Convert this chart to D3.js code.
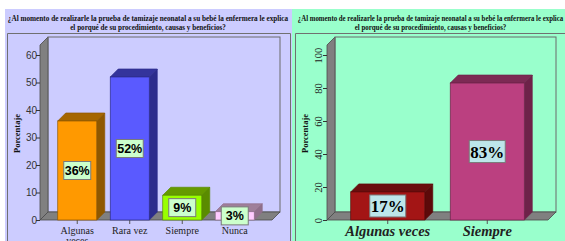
<!DOCTYPE html>
<html><head><meta charset="utf-8">
<script src="https://cdn.jsdelivr.net/npm/d3@7"></script>
<style>body{margin:0;background:#fff}svg{display:block}</style>
</head><body>
<svg id="c" width="565" height="241"></svg>
<script>
const titleLines = ["¿Al momento de realizarle la prueba de tamizaje neonatal a su bebé la enfermera le explica", "el porqué de su procedimiento, causas y beneficios?"];
const leftCats = ["Algunas veces", "Rara vez", "Siempre", "Nunca"];
const leftVals = [36, 52, 9, 3];
const leftLabels = ["36%", "52%", "9%", "3%"];
const leftTicks = [0, 10, 20, 30, 40, 50, 60];
const rightCats = ["Algunas veces", "Siempre"];
const rightVals = [17, 83];
const rightLabels = ["17%", "83%"];
const rightTicks = [0, 20, 40, 60, 80, 100];
const axisTitle = "Porcentaje";

const leftColors = [
  {front:"#ff9900", top:"#a56600", side:"#8f5800"},
  {front:"#5a5aff", top:"#34349c", side:"#2c2c8c"},
  {front:"#99ff00", top:"#659a00", side:"#5a8c00"},
  {front:"#ffccff", top:"#9f7f9a", side:"#8f6f8a"}];
const rightColors = [
  {front:"#a31515", top:"#6a0e0e", side:"#5c0a0a"},
  {front:"#bb4080", top:"#7c2a54", side:"#6e2249"}];

const svg = d3.select("#c");
const DX = 8, DY = -8;

function panel(o){
  const g = svg.append("g");
  g.append("rect").attr("x",o.px).attr("y",9).attr("width",o.pw).attr("height",232).attr("fill",o.bg);
  g.append("path").attr("d",o.framePath).attr("fill","none").attr("stroke","#707070").attr("stroke-width",1);
  o.titleW.forEach((w,i)=>{
    const t = g.append("text").attr("x",0).attr("y",0).attr("text-anchor","middle")
      .attr("font-family","Liberation Serif, serif").attr("font-weight","bold").attr("font-size",8.5)
      .attr("fill","#111").text(titleLines[i]);
    const nat = t.node().getComputedTextLength();
    t.attr("transform",`translate(${o.tcx},${21+i*9}) scale(${w/nat},1)`);
  });
  const y = d3.scaleLinear().domain([0,o.max]).range([220,55]);
  const x = d3.scaleBand().domain(o.cats).range(o.xr).paddingInner(o.pi).paddingOuter(o.po);
  const x0 = o.xr[0], x1 = o.xr[1], yb = 220, yt = 45;
  g.append("polygon").attr("points",[[x0,yb],[x0+DX,yb+DY],[x0+DX,yt+DY],[x0,yt]].join(" "))
    .attr("fill","#808080").attr("stroke","#4a4a4a").attr("stroke-width",0.8);
  g.append("rect").attr("x",x0+DX).attr("y",yt+DY).attr("width",x1-x0).attr("height",yb-yt)
    .attr("fill","none").attr("stroke","#6a6a6a").attr("stroke-width",1);
  g.append("polygon").attr("points",[[x0,yb],[x1,yb],[x1+DX,yb+DY],[x0+DX,yb+DY]].join(" "))
    .attr("fill","#808080").attr("stroke","#4a4a4a").attr("stroke-width",0.8);
  const ya = g.append("g").attr("transform",`translate(${x0},0)`)
    .call(d3.axisLeft(y).tickValues(o.ticks).tickSize(4).tickFormat(d3.format("d")));
  ya.select(".domain").remove();
  ya.selectAll("line").attr("stroke","#333");
  if(o.rotTicks){
    ya.selectAll("text").attr("x",null).attr("dy",null).attr("text-anchor","middle")
      .attr("transform","translate(-5,0) rotate(-90)")
      .attr("font-family","Liberation Serif, serif").attr("font-size",10.5).attr("fill","#222");
  } else {
    ya.selectAll("text").attr("x",-3).attr("font-family","Liberation Sans, Arial, sans-serif").attr("font-size",10).attr("fill","#333");
  }
  g.append("text").attr("transform",`translate(${o.atx},133.5) rotate(-90)`).attr("text-anchor","middle")
    .attr("dy","0.35em").attr("font-family","Liberation Serif, serif").attr("font-weight","bold").attr("font-size",8.5)
    .attr("fill","#111").text(axisTitle);
  const xa = g.append("g").attr("transform",`translate(0,${yb})`).call(d3.axisBottom(x).tickSize(4));
  xa.select(".domain").remove();
  xa.selectAll("line").attr("stroke","#555");
  xa.selectAll("text").each(function(d){
    const t = d3.select(this).text("").attr("fill","#222").attr("font-family","Liberation Serif, serif");
    if(o.bigCat){
      t.attr("y",16).attr("dy",null).attr("font-size",14.5).attr("font-weight","bold").attr("font-style","italic").text(d);
    } else {
      const lines = (d.split(" ").length>1 && d.length>10) ? d.split(" ") : [d];
      lines.forEach((w,i)=> t.append("tspan").attr("x",0).attr("y",5+i*10).attr("dy","0.85em").attr("font-size",10).text(w));
    }
  });
  o.vals.forEach((v,i)=>{
    const c = o.colors[i], bx = x(o.cats[i]), bw = x.bandwidth(), ty = y(v);
    const bg = g.append("g").attr("stroke",c.side).attr("stroke-width",0.7);
    bg.append("polygon").attr("points",[[bx+bw,ty],[bx+bw+DX,ty+DY],[bx+bw+DX,yb+DY],[bx+bw,yb]].join(" ")).attr("fill",c.side);
    bg.append("polygon").attr("points",[[bx,ty],[bx+DX,ty+DY],[bx+bw+DX,ty+DY],[bx+bw,ty]].join(" ")).attr("fill",c.top);
    bg.append("rect").attr("x",bx).attr("y",ty).attr("width",bw).attr("height",yb-ty).attr("fill",c.front);
    const cx = bx+bw/2, cy = (ty+yb)/2;
    g.append("rect").attr("x",cx-o.lw/2).attr("y",cy-o.lh/2).attr("width",o.lw).attr("height",o.lh)
      .attr("fill",o.lbg).attr("stroke","#7a7a7a").attr("stroke-width",1);
    g.append("text").attr("x",cx).attr("y",cy).attr("dy","0.36em").attr("text-anchor","middle")
      .attr("font-family",o.lfont).attr("font-weight","bold").attr("font-size",o.lfs).attr("fill","#000").text(o.labels[i]);
  });
}

panel({px:5,pw:287,bg:"#ccccff",framePath:"M7.5,241V33.5H290.5V241",tcx:148,titleW:[281,156],
  cats:leftCats,vals:leftVals,labels:leftLabels,colors:leftColors,ticks:leftTicks,max:60,
  xr:[40,272],pi:0.257,po:0.338,atx:17,rotTicks:false,bigCat:false,
  lw:27,lh:18,lbg:"#ccffcc",lfont:"Liberation Sans, Arial, sans-serif",lfs:12.5});
panel({px:292,pw:273,bg:"#99ffcc",framePath:"M295.5,241V33.5H565",tcx:430.5,titleW:[266,152],
  cats:rightCats,vals:rightVals,labels:rightLabels,colors:rightColors,ticks:rightTicks,max:100,
  xr:[327,548],pi:0.256,po:0.2385,atx:305,rotTicks:true,bigCat:true,
  lw:36,lh:22,lbg:"#bde6ea",lfont:"Liberation Serif, serif",lfs:17});
</script>
</body></html>
